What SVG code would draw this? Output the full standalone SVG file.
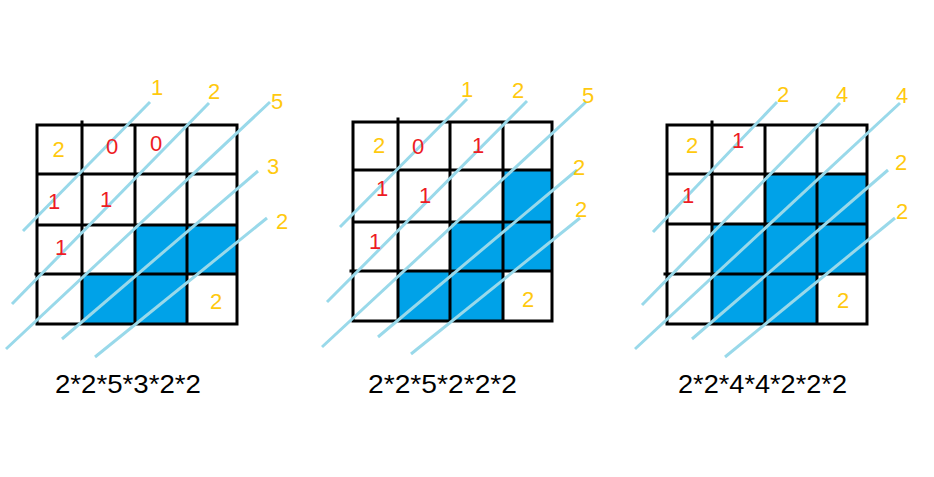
<svg xmlns="http://www.w3.org/2000/svg" width="934" height="477" viewBox="0 0 934 477">
<style>
.bg{fill:#ffffff}
.cell{fill:#00a2e8}
.grid{stroke:#000;stroke-width:3;fill:none;stroke-linecap:square}
.diag{stroke:#99d9ea;stroke-width:3;fill:none}
text{font-family:"Liberation Sans",Arial,sans-serif;font-size:22px;text-anchor:middle}
.y{fill:#ffc90e}
.r{fill:#ed1c24}
.f{fill:#000;font-size:25px}
</style>
<rect class="bg" x="0" y="0" width="934" height="477"/>

<g id="grid1">
<rect class="cell" x="135" y="225" width="52" height="49"/>
<rect class="cell" x="187" y="225" width="50" height="49"/>
<rect class="cell" x="82" y="274" width="53" height="50"/>
<rect class="cell" x="135" y="274" width="52" height="50"/>
<path class="grid" d="M37 125H237V324H37Z M82 122V324 M135 125V324 M187 125V324 M37 174H237 M37 225H237 M36 274H237"/>
</g>

<g id="grid2">
<rect class="cell" x="503" y="170" width="49" height="52"/>
<rect class="cell" x="450" y="222" width="53" height="49"/>
<rect class="cell" x="503" y="222" width="49" height="49"/>
<rect class="cell" x="398" y="271" width="52" height="50"/>
<rect class="cell" x="450" y="271" width="53" height="50"/>
<path class="grid" d="M353 122H552V321H353Z M398 119V321 M450 122V321 M503 122V321 M353 170H552 M353 222H552 M351 271H552"/>
</g>

<g id="grid3">
<rect class="cell" x="765" y="174" width="52" height="50"/>
<rect class="cell" x="817" y="174" width="50" height="50"/>
<rect class="cell" x="712" y="224" width="53" height="50"/>
<rect class="cell" x="765" y="224" width="52" height="50"/>
<rect class="cell" x="817" y="224" width="50" height="50"/>
<rect class="cell" x="712" y="274" width="53" height="50"/>
<rect class="cell" x="765" y="274" width="52" height="50"/>
<path class="grid" d="M667 125H867V324H667Z M712 122V324 M765 125V324 M817 125V324 M667 174H867 M667 224H867 M665 274H867"/>
</g>

<g id="connectors">
<line class="diag" x1="23" y1="231" x2="150" y2="102"/>
<line class="diag" x1="12" y1="304" x2="209" y2="103"/>
<line class="diag" x1="6" y1="349" x2="270" y2="102"/>
<line class="diag" x1="62" y1="339" x2="258" y2="171"/>
<line class="diag" x1="95" y1="357" x2="267" y2="218"/>

<line class="diag" x1="340" y1="227" x2="467" y2="99"/>
<line class="diag" x1="327" y1="302" x2="527" y2="101"/>
<line class="diag" x1="322" y1="347" x2="586" y2="102"/>
<line class="diag" x1="378" y1="337" x2="577" y2="170"/>
<line class="diag" x1="411" y1="354" x2="580" y2="218"/>

<line class="diag" x1="653" y1="232" x2="777" y2="102"/>
<line class="diag" x1="642" y1="305" x2="840" y2="103"/>
<line class="diag" x1="635" y1="349" x2="900" y2="103"/>
<line class="diag" x1="692" y1="339" x2="888" y2="170"/>
<line class="diag" x1="725" y1="357" x2="895" y2="218"/>
</g>

<g id="grid1-values">
<text class="y" x="58.5" y="157">2</text>
<text class="r" x="112" y="154">0</text>
<text class="r" x="156" y="151">0</text>
<text class="r" x="54" y="209">1</text>
<text class="r" x="106" y="207">1</text>
<text class="r" x="61" y="255">1</text>
<text class="y" x="216" y="309">2</text>
</g>

<g id="grid2-values">
<text class="y" x="379" y="153">2</text>
<text class="r" x="418" y="154">0</text>
<text class="r" x="478" y="153">1</text>
<text class="r" x="382" y="196">1</text>
<text class="r" x="425" y="203">1</text>
<text class="r" x="375" y="249">1</text>
<text class="y" x="528" y="307">2</text>
</g>

<g id="grid3-values">
<text class="y" x="692" y="153">2</text>
<text class="r" x="738" y="148">1</text>
<text class="r" x="688" y="203">1</text>
<text class="y" x="843" y="308">2</text>
</g>

<g id="labels">
<text class="y" x="157" y="95">1</text>
<text class="y" x="214" y="99">2</text>
<text class="y" x="277" y="109">5</text>
<text class="y" x="273" y="174">3</text>
<text class="y" x="282" y="229">2</text>

<text class="y" x="467" y="97">1</text>
<text class="y" x="518" y="98">2</text>
<text class="y" x="588" y="103">5</text>
<text class="y" x="579" y="175">2</text>
<text class="y" x="581" y="217">2</text>

<text class="y" x="783" y="102">2</text>
<text class="y" x="842" y="102">4</text>
<text class="y" x="902" y="103">4</text>
<text class="y" x="901" y="170">2</text>
<text class="y" x="902" y="219">2</text>
</g>

<g id="formulas">
<text class="f" x="128" y="393" textLength="146" lengthAdjust="spacingAndGlyphs">2*2*5*3*2*2</text>
<text class="f" x="442.5" y="393" textLength="149" lengthAdjust="spacingAndGlyphs">2*2*5*2*2*2</text>
<text class="f" x="762.5" y="393" textLength="169" lengthAdjust="spacingAndGlyphs">2*2*4*4*2*2*2</text>
</g>
</svg>
